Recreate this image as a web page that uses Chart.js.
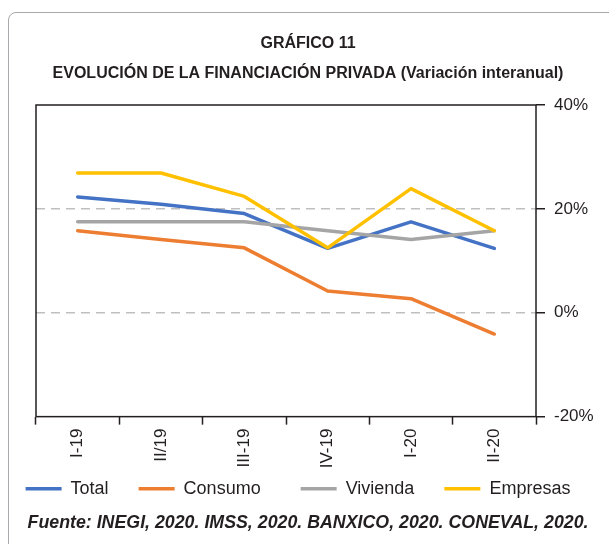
<!DOCTYPE html>
<html>
<head>
<meta charset="utf-8">
<script src="https://cdn.jsdelivr.net/npm/chart.js@4.4.0/dist/chart.umd.min.js"></script>
<style>
  html, body { margin: 0; padding: 0; background: #fff; overflow: hidden; }
  #frame { position: absolute; left: 8px; top: 12px; width: 700px; height: 600px;
           border: 1.5px solid #a7a9ac; border-top-left-radius: 8px; }
  #wrap { position: absolute; left: 0; top: 0; width: 609px; height: 544px; }
</style>
</head>
<body>
<div id="frame"></div>
<div id="wrap"><canvas id="chart" width="609" height="544"></canvas></div>
<script>
const quarters = ["I-19", "II/19", "III-19", "IV-19", "I-20", "II-20"];
const total    = [22.3, 20.9, 19.1, 12.4, 17.5, 12.4];
const consumo  = [15.8, 14.1, 12.5, 4.2, 2.7, -4.1];
const vivienda = [17.5, 17.5, 17.5, 15.8, 14.1, 15.8];
const empresas = [26.9, 26.9, 22.4, 12.5, 23.9, 15.8];
const yTicks   = [-20, 0, 20, 40];

const fontFam = "'Liberation Sans', Arial, sans-serif";
const ink = "#231f20";
// espacios extra tras cada texto de la leyenda (separación irregular del original)
const legendGap = [4, 6, 4, 4];

// dibuja el marco del área de trazado
const framePlugin = {
  id: "frame",
  beforeDatasetsDraw(chart) {
    const {ctx, chartArea: a} = chart;
    ctx.save();
    ctx.strokeStyle = ink;
    ctx.lineWidth = 1.5;
    ctx.strokeRect(a.left, a.top, a.right - a.left, a.bottom - a.top);
    ctx.restore();
  }
};

function serie(label, data, color, order) {
  return {
    label: label,
    data: data,
    borderColor: color,
    backgroundColor: color,
    borderWidth: 3.5,
    pointRadius: 0,
    tension: 0,
    borderCapStyle: "round",
    borderJoinStyle: "round",
    order: order,
    yAxisID: "y"
  };
}

new Chart(document.getElementById("chart"), {
  type: "line",
  data: {
    labels: quarters,
    datasets: [
      serie("Total", total, "#4472c4", 3),
      serie("Consumo", consumo, "#ed7d31", 2),
      serie("Vivienda", vivienda, "#a5a5a5", 1),
      serie("Empresas", empresas, "#ffc000", 0)
    ]
  },
  options: {
    responsive: false,
    animation: false,
    layout: { padding: { left: 7, right: 0, top: 0, bottom: 0 } },
    plugins: {
      tooltip: { enabled: false },
      title: {
        display: true,
        text: ["GRÁFICO 11", "EVOLUCIÓN DE LA FINANCIACIÓN PRIVADA (Variación interanual)"],
        color: ink,
        font: { family: fontFam, size: 16, weight: "bold", lineHeight: 1.875 },
        padding: { top: 29, bottom: 16 }
      },
      subtitle: {
        display: true,
        position: "bottom",
        text: "Fuente: INEGI, 2020. IMSS, 2020. BANXICO, 2020. CONEVAL, 2020.",
        color: ink,
        font: { family: fontFam, size: 17.8, weight: "bold", style: "italic", lineHeight: 1.2 },
        padding: { top: 5, bottom: 10 }
      },
      legend: {
        position: "bottom",
        align: "center",
        labels: {
          color: ink,
          font: { family: fontFam, size: 18 },
          usePointStyle: true,
          pointStyle: "line",
          pointStyleWidth: 36,
          boxHeight: 4,
          padding: 10,
          sort: (a, b) => a.datasetIndex - b.datasetIndex,
          generateLabels: (chart) => {
            const items = Chart.defaults.plugins.legend.labels.generateLabels(chart);
            items.forEach(it => { it.text = it.text + " ".repeat(legendGap[it.datasetIndex]); });
            return items;
          }
        }
      }
    },
    scales: {
      x: {
        offset: true,
        afterFit: (scale) => { scale.height = 53; },
        grid: {
          offset: true,
          drawOnChartArea: false,
          tickLength: 8,
          tickColor: ink,
          tickWidth: 1.5
        },
        border: { display: false },
        ticks: {
          color: ink,
          font: { family: fontFam, size: 17 },
          minRotation: 90,
          maxRotation: 90,
          padding: 4,
          autoSkip: false
        }
      },
      y: {
        position: "right",
        min: yTicks[0],
        max: yTicks[yTicks.length - 1],
        afterFit: (scale) => { scale.width = 73; },
        afterBuildTicks: (scale) => { scale.ticks = yTicks.map(v => ({ value: v })); },
        grid: {
          color: (c) => (c.tick && (c.tick.value === 20 || c.tick.value === 0)) ? "#bfbfbf" : "rgba(0,0,0,0)",
          lineWidth: 1.5,
          tickLength: 9,
          tickColor: ink,
          tickWidth: 1.5
        },
        border: { display: false, dash: [9, 6] },
        ticks: {
          color: ink,
          font: { family: fontFam, size: 17 },
          padding: 9,
          callback: (v) => v + "%"
        }
      },
      yl: {
        position: "left",
        min: yTicks[0],
        max: yTicks[yTicks.length - 1],
        afterFit: (scale) => { scale.width = 29; },
        grid: { display: false },
        border: { display: false },
        ticks: { display: false }
      }
    }
  },
  plugins: [framePlugin]
});
</script>
</body>
</html>
